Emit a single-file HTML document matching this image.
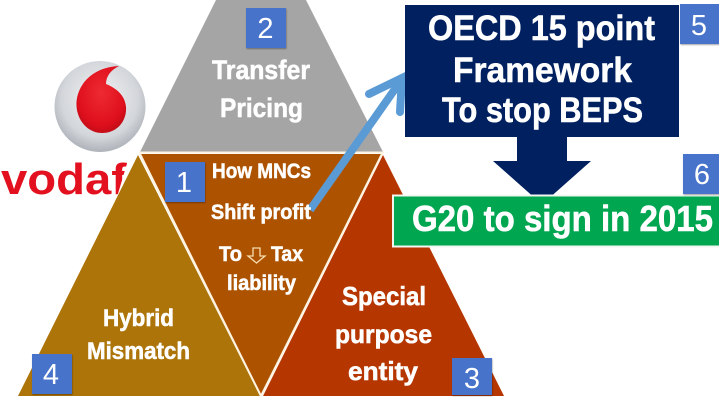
<!DOCTYPE html>
<html><head><meta charset="utf-8"><style>
html,body{margin:0;padding:0;background:#fff;width:719px;height:404px;overflow:hidden}
svg{display:block}
text{font-family:"Liberation Sans",sans-serif}
.t{font-weight:bold;fill:#fff;stroke:#fff;stroke-width:.55px}
.n{fill:#fff;font-size:29px;text-anchor:middle}
.b{fill:#4773cb;filter:url(#s)}
</style></head><body>
<svg width="719" height="404" viewBox="0 0 719 404" xmlns="http://www.w3.org/2000/svg">
<defs>
<filter id="s" x="-10%" y="-10%" width="125%" height="125%"><feDropShadow dx="0.5" dy="1" stdDeviation="0.8" flood-color="#000" flood-opacity=".35"/></filter>
<radialGradient id="g" cx=".5" cy=".42" r=".6"><stop offset="0" stop-color="#f4f5f6"/><stop offset=".7" stop-color="#d3d6da"/><stop offset="1" stop-color="#a9aeb5"/></radialGradient>
<radialGradient id="r" cx=".5" cy=".4" r=".65"><stop offset="0" stop-color="#ee2a32"/><stop offset=".75" stop-color="#de0f1c"/><stop offset="1" stop-color="#b80d16"/></radialGradient>
<clipPath id="v"><polygon points="0,150 131,150 117,197 0,197"/></clipPath>
</defs>
<circle cx="100" cy="106.500" r="45.500" fill="url(#g)"/>
<path d="M119 66C100 67 84 76 78 94C72 113 84 133 102 133C118 133 127 120 126 107C125 95 116 88 106 84C106 76 111 70 119 66Z" fill="url(#r)"/>
<g clip-path="url(#v)"><text x="1" y="194" font-size="44" font-weight="bold" fill="#e3111f" textLength="126" lengthAdjust="spacingAndGlyphs">vodaf</text></g>

<polygon points="216,0 306,0 383,152 140,152" fill="#a5a5a5"/>
<polygon points="138,155 18,396 260,396" fill="#ad7409"/>
<polygon points="141,154 381,154 261,396" fill="#ad5300"/>
<polygon points="383,155 504,396 263,396" fill="#b63600"/>
<path d="M139 152.500H384M139.500 153L261 396M382.500 153L261 396" stroke="#fdf3e0" stroke-width="2" fill="none"/>

<path d="M310 210L402 79" stroke="#5b9bd5" stroke-width="8" fill="none"/>
<path d="M369 94L402 78L400 112" stroke="#5b9bd5" stroke-width="8" fill="none" stroke-linecap="round" stroke-linejoin="miter"/>

<rect x="405" y="5" width="274" height="132" fill="#002060"/>
<polygon points="517,137 567,137 567,161 591,161 547,200 537,200 493,161 517,161" fill="#002060"/>
<rect x="393" y="195.500" width="328" height="51" fill="#00a650" stroke="#f2f7f0" stroke-width="2"/>

<text class="t" x="428" y="40" font-size="35" textLength="227" lengthAdjust="spacingAndGlyphs">OECD 15 point</text>
<text class="t" x="453" y="82" font-size="35" textLength="179" lengthAdjust="spacingAndGlyphs">Framework</text>
<text class="t" x="442" y="122" font-size="35" textLength="201" lengthAdjust="spacingAndGlyphs">To stop BEPS</text>
<text class="t" x="412" y="231" font-size="36" textLength="301" lengthAdjust="spacingAndGlyphs">G20 to sign in 2015</text>

<text class="t" x="212" y="79" font-size="27" textLength="98" lengthAdjust="spacingAndGlyphs">Transfer</text>
<text class="t" x="220" y="117" font-size="27" textLength="83" lengthAdjust="spacingAndGlyphs">Pricing</text>
<text class="t" x="212" y="178" font-size="21" textLength="99" lengthAdjust="spacingAndGlyphs">How MNCs</text>
<text class="t" x="211" y="219" font-size="21" textLength="100" lengthAdjust="spacingAndGlyphs">Shift profit</text>
<text class="t" x="219" y="261" font-size="21" textLength="23" lengthAdjust="spacingAndGlyphs">To</text>
<path d="M253 248H260V256H265L256.500 263L248 256H253Z" fill="none" stroke="#f6dcae" stroke-width="1.300"/>
<text class="t" x="271" y="261" font-size="21" textLength="32" lengthAdjust="spacingAndGlyphs">Tax</text>
<text class="t" x="227" y="290" font-size="21" textLength="69" lengthAdjust="spacingAndGlyphs">liability</text>
<text class="t" x="342" y="305" font-size="26" textLength="84" lengthAdjust="spacingAndGlyphs">Special</text>
<text class="t" x="335" y="343" font-size="26" textLength="97" lengthAdjust="spacingAndGlyphs">purpose</text>
<text class="t" x="348" y="380" font-size="26" textLength="70" lengthAdjust="spacingAndGlyphs">entity</text>
<text class="t" x="103" y="326" font-size="24" textLength="71" lengthAdjust="spacingAndGlyphs">Hybrid</text>
<text class="t" x="87" y="359" font-size="24" textLength="103" lengthAdjust="spacingAndGlyphs">Mismatch</text>

<rect class="b" x="246" y="8" width="40" height="40"/><text class="n" x="265.500" y="38">2</text>
<rect class="b" x="165" y="162" width="40" height="40"/><text class="n" x="184" y="192">1</text>
<rect class="b" x="452" y="358" width="40" height="37"/><text class="n" x="472" y="388">3</text>
<rect class="b" x="32" y="354" width="40" height="40"/><text class="n" x="51" y="384">4</text>
<rect class="b" x="680" y="4" width="42" height="40"/><text class="n" x="699" y="35">5</text>
<rect class="b" x="683" y="154" width="40" height="40"/><text class="n" x="702" y="184">6</text>
</svg>
</body></html>
